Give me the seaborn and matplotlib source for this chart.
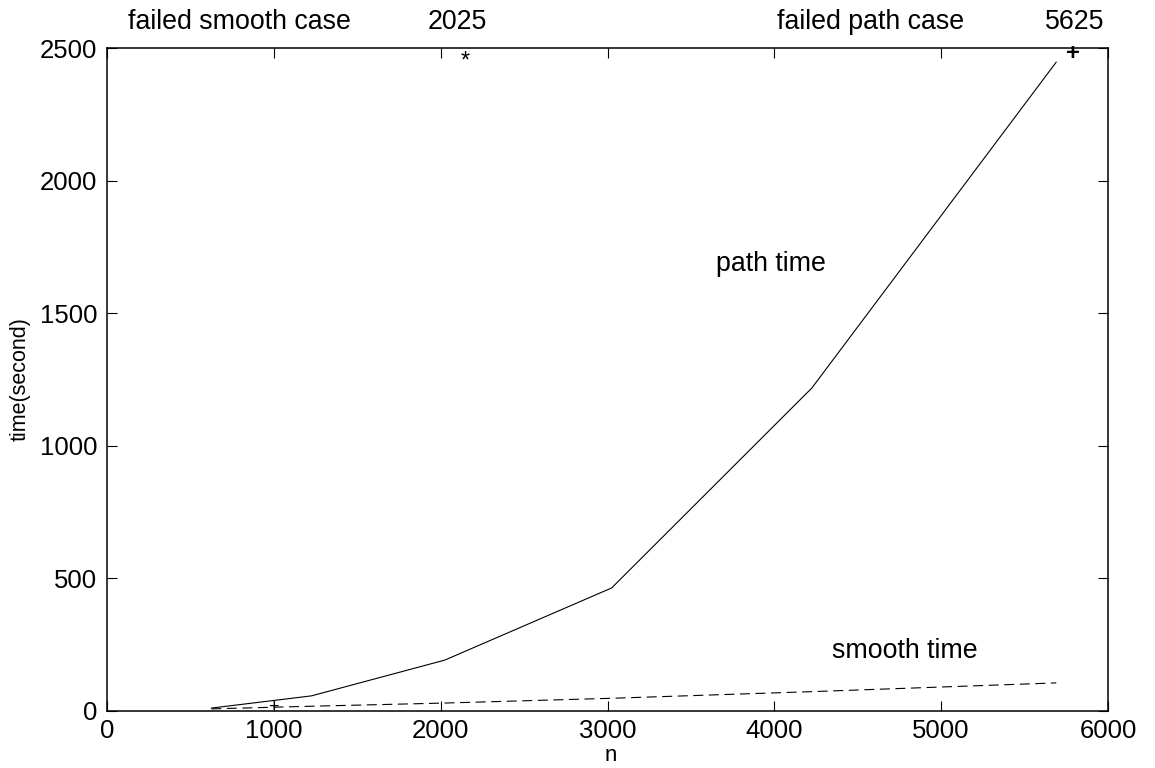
import numpy as np
import pandas as pd
import seaborn as sns
import matplotlib.pyplot as plt

# Data
n = [625, 1225, 2025, 3025, 4225, 5690]
path_time = [11, 57, 192, 464, 1218, 2447]
smooth_time = [8, 18, 30, 48, 73, 106]

df = pd.DataFrame({
    "n": n * 2,
    "time": path_time + smooth_time,
    "kind": ["path"] * len(n) + ["smooth"] * len(n),
})

sns.set_style("ticks")
plt.rcParams['font.family'] = ['Liberation Sans', 'DejaVu Sans']
plt.rcParams.update({"text.color": "black", "axes.labelcolor": "black",
                     "xtick.color": "black", "ytick.color": "black",
                     "axes.edgecolor": "black"})

fig = plt.figure(figsize=(11.55, 7.68), dpi=100)
ax = fig.add_axes([107 / 1155, 1 - 711 / 768, 1001 / 1155, 663 / 768])

sns.lineplot(data=df, x="n", y="time", style="kind", color="black",
             dashes={"path": "", "smooth": (9, 5)}, linewidth=0.8,
             legend=False, ax=ax)

ax.set_xlim(0, 6000)
ax.set_ylim(0, 2500)
ax.set_xticks(range(0, 6001, 1000))
ax.set_yticks(range(0, 2501, 500))
ax.tick_params(direction="in", top=True, right=True, labelsize=18.5, length=7, width=0.8)
ax.tick_params(axis="y", pad=7)
ax.tick_params(axis="x", pad=6)
for s in ax.spines.values():
    s.set_linewidth(1.1)
    s.set_visible(True)

ax.set_xlabel("n", fontsize=16)
ax.set_ylabel("time(second)", fontsize=15.5)
ax.xaxis.set_label_coords(0.5031, -0.052)
ax.yaxis.set_label_coords(-0.076, 0.5)

# annotations
fs = 19.3
ax.text(3651, 1685, "path time", fontsize=fs, va="center")
ax.text(4347, 225, "smooth time", fontsize=fs, va="center")
ax.text(126, 2598, "failed smooth case", fontsize=fs, va="center")
ax.text(1924, 2598, "2025", fontsize=fs, va="center")
ax.text(4017, 2598, "failed path case", fontsize=fs, va="center")
ax.text(5624, 2598, "5625", fontsize=fs, va="center")

ax.text(2146, 2450, "*", fontsize=17, ha="center", va="center")
ax.text(5791, 2478, "+", fontsize=17, ha="center", va="center", fontweight="bold")
ax.text(1000, 15, "+", fontsize=13, ha="center", va="center")

fig.savefig("out.png", dpi=100)
